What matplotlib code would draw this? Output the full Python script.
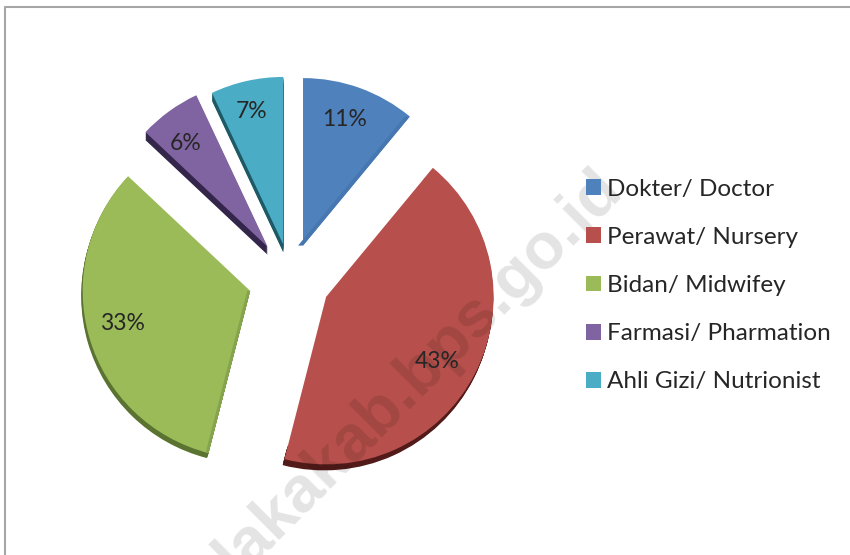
import numpy as np
from matplotlib import pyplot as plt
from matplotlib.patches import Patch, Polygon

plt.rcParams['font.family'] = ['Lato', 'DejaVu Sans']

# Datos
categories = ["Dokter/ Doctor", "Perawat/ Nursery", "Bidan/ Midwifey", "Farmasi/ Pharmation", "Ahli Gizi/ Nutrionist"]
values = [11, 43, 33, 6, 7]
pct_labels = ["11%", "43%", "33%", "6%", "7%"]

# Estilo: el eje va en pixeles de la imagen
W, H = 850, 555
colors = ["#4f81bd", "#b7504c", "#9bbb59", "#8064a2", "#4bacc6"]
side_colors = ["#4273a8", "#521b1a", "#5b7330", "#33264a", "#1d5a66"]
explode = [35.5, 39.4, 42.5, 39.8, 35.4]
center = (291, H - 279)
radius = 167.5
depths = [0, 6, 5, 8, 8]
slant = [0, 0.3, 0.3, 0, 0]
label_pos = [(345, 120), (437, 361), (122, 323), (186, 143), (252, 111)]

fig = plt.figure(figsize=(8.5, 5.55), dpi=100)
ax = fig.add_axes([0, 0, 1, 1])

# Paredes del efecto 3D
for d in range(max(depths), 0, -1):
    walls, _ = ax.pie(values, explode=explode, colors=side_colors, radius=radius, startangle=90,
                      counterclock=False, center=(center[0], center[1] - d), frame=True)
    for w, dep, s in zip(walls, depths, slant):
        w.set_visible(d <= dep)
        w.set_center((w.center[0] - s * d, w.center[1]))
    # el rojo solo muestra pared en el arco
    walls[1].set_width(15)

wedges, _ = ax.pie(values, explode=explode, colors=colors, radius=radius, startangle=90,
                   counterclock=False, center=center, frame=True)
for w in wedges:
    w.set_zorder(2)


# Bisel del borde recto derecho de un sector
def edge_band(wedge, angle, width, color):
    apex = np.array(wedge.center)
    ang = np.radians(angle)
    tip = apex + radius * np.array([np.cos(ang), np.sin(ang)])
    shift = np.array([width, 0])
    ax.add_patch(Polygon([apex, tip, tip - shift, apex - shift], color=color, lw=0, zorder=2.5))


edge_band(wedges[0], wedges[0].theta1, 5, "#4677b0")
edge_band(wedges[2], wedges[2].theta2, 3, "#86a34e")

for txt, (x, y) in zip(pct_labels, label_pos):
    ax.text(x, H - y, txt, fontsize=16.5, color="#262626", ha="center", va="center", zorder=4)

# Marca de agua
ax.text(624, H - 191, "lakakab.bps.go.id", fontsize=47, fontweight="bold", family="Liberation Sans",
        color="black", alpha=0.11, rotation=45, rotation_mode="anchor", ha="right", va="baseline", zorder=3)

# Marco del grafico
ax.plot([5, 5, W], [0, H - 7, H - 7], color="#a6a6a6", lw=1.5, zorder=1)

handles = [Patch(facecolor=c, edgecolor="none") for c in colors]
ax.legend(handles, categories, loc="center left", bbox_to_anchor=(586 / W, 1 - 285.5 / H), frameon=False,
          fontsize=17.5, labelcolor="#262626", handlelength=0.62, handleheight=0.62, handletextpad=0.25,
          labelspacing=1.12, borderpad=0, borderaxespad=0)

ax.set_xlim(0, W)
ax.set_ylim(0, H)
ax.set_aspect("auto")
ax.axis("off")

plt.savefig("out.png", dpi=100)
